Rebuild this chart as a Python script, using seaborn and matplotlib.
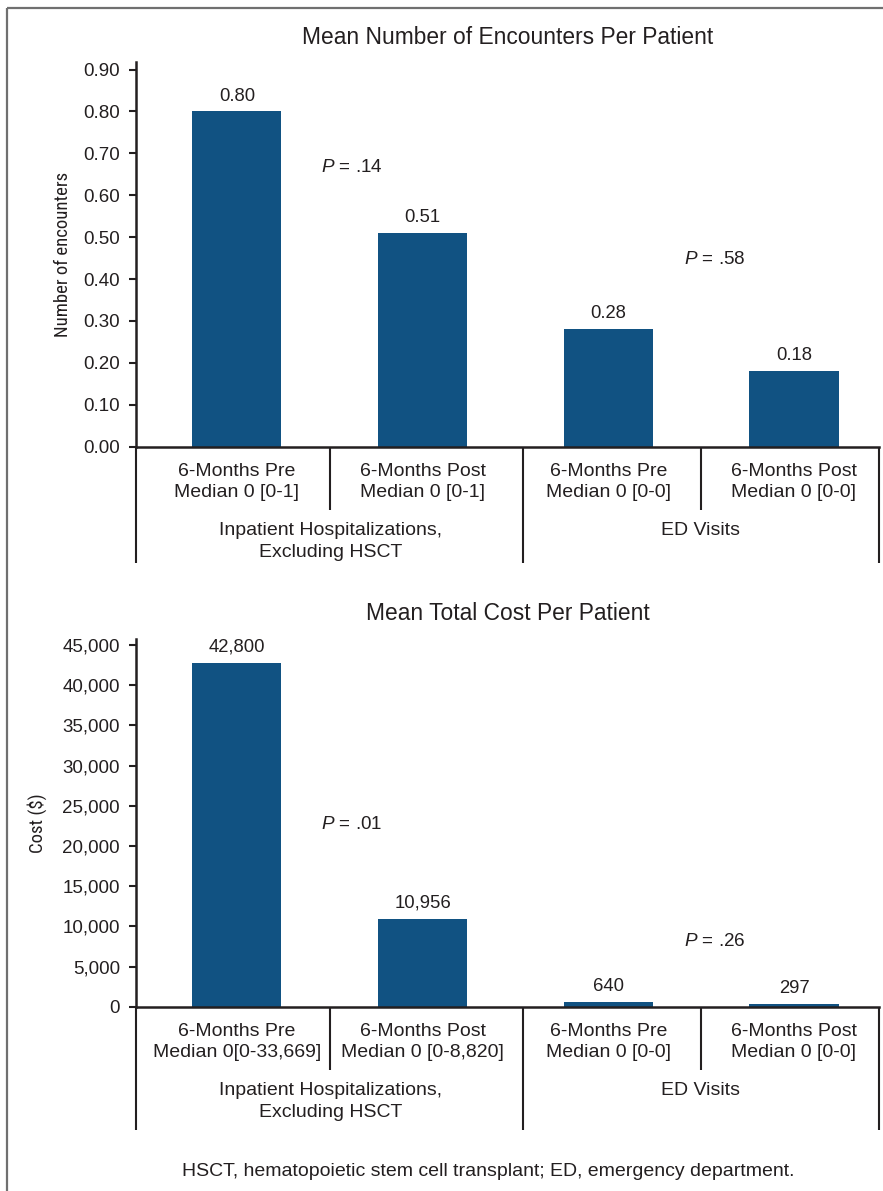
import numpy as np
import pandas as pd
import matplotlib
matplotlib.use("Agg")
import matplotlib.pyplot as plt
import seaborn as sns
from matplotlib import font_manager
from matplotlib.transforms import blended_transform_factory

# ---------------- data ----------------
enc_categories = ["6-Months Pre\nMedian 0 [0-1]", "6-Months Post\nMedian 0 [0-1]",
                  "6-Months Pre\nMedian 0 [0-0]", "6-Months Post\nMedian 0 [0-0]"]
enc_values = [0.80, 0.51, 0.28, 0.18]
enc_value_labels = ["0.80", "0.51", "0.28", "0.18"]
enc_yticks = [0.0, 0.1, 0.2, 0.3, 0.4, 0.5, 0.6, 0.7, 0.8, 0.9]
enc_yticklabels = ["0.00", "0.10", "0.20", "0.30", "0.40", "0.50", "0.60", "0.70", "0.80", "0.90"]
enc_pvalues = ["$P$ = .14", "$P$ = .58"]
enc_p_y = [0.667, 0.447]

cost_categories = ["6-Months Pre\nMedian 0[0-33,669]", "6-Months Post\nMedian 0 [0-8,820]",
                   "6-Months Pre\nMedian 0 [0-0]", "6-Months Post\nMedian 0 [0-0]"]
cost_values = [42800, 10956, 640, 297]
cost_value_labels = ["42,800", "10,956", "640", "297"]
cost_yticks = [0, 5000, 10000, 15000, 20000, 25000, 30000, 35000, 40000, 45000]
cost_yticklabels = ["0", "5,000", "10,000", "15,000", "20,000", "25,000", "30,000",
                    "35,000", "40,000", "45,000"]
cost_pvalues = ["$P$ = .01", "$P$ = .26"]
cost_p_y = [22700, 8150]

groups = ["Inpatient Hospitalizations,\nExcluding HSCT", "ED Visits"]
titles = ["Mean Number of Encounters Per Patient", "Mean Total Cost Per Patient"]
ylabels = ["Number of encounters", "Cost ($)"]
footer = "HSCT, hematopoietic stem cell transplant; ED, emergency department."

# ---------------- style ----------------
sns.set_style("white")
plt.rcParams["font.family"] = ["Liberation Sans", "DejaVu Sans"]
plt.rcParams["mathtext.fontset"] = "custom"
plt.rcParams["mathtext.it"] = "Liberation Sans:italic"
plt.rcParams["mathtext.rm"] = "Liberation Sans"

names = sorted({f.name for f in font_manager.fontManager.ttflist})
narrow = None
for cand in ["Liberation Sans Narrow", "Roboto Condensed", "Open Sans Condensed",
             "DejaVu Sans Condensed"]:
    if cand in names:
        narrow = cand
        break
if narrow is None:
    for n in names:
        if "Condensed" in n or "Narrow" in n:
            narrow = n
            break
if narrow is not None and narrow != "DejaVu Sans Condensed":
    YL_FONT = dict(family=[narrow, "DejaVu Sans"], fontsize=13.5)
elif narrow == "DejaVu Sans Condensed":
    YL_FONT = dict(family=[narrow], fontsize=12.5)
else:
    YL_FONT = dict(fontsize=12)

BAR = "#115282"
TXT = "#231f20"
FRAME = "#707070"
W, H = 883, 1191

fig = plt.figure(figsize=(W / 100, H / 100), dpi=100)
fig.patch.set_facecolor("white")

# outer frame (top and left)
fig.add_artist(plt.Line2D([7.5 / W, 1.0], [1 - 8.3 / H, 1 - 8.3 / H], color=FRAME, lw=1.6,
                          transform=fig.transFigure, solid_capstyle="butt"))
fig.add_artist(plt.Line2D([7.5 / W, 7.5 / W], [0, 1 - 8.3 / H], color=FRAME, lw=1.6,
                          transform=fig.transFigure, solid_capstyle="butt"))

xlim = (-0.543, 3.458)
inner_sep = [0.501, 2.499]
outer_sep = [xlim[0], 1.541, xlim[1]]
group_x = [0.503, 2.499]

panels = [
    dict(cats=enc_categories, vals=enc_values, vlab=enc_value_labels, yt=enc_yticks,
         ytl=enc_yticklabels, pv=enc_pvalues, py=enc_p_y, ylim=(0, 0.918),
         top=62.0, bottom=446.7, title_y=38, inner_end=510, outer_end=562.7,
         group_top=522, ylab_x=-0.0861),
    dict(cats=cost_categories, vals=cost_values, vlab=cost_value_labels, yt=cost_yticks,
         ytl=cost_yticklabels, pv=cost_pvalues, py=cost_p_y, ylim=(0, 45746),
         top=639.0, bottom=1006.7, title_y=614, inner_end=1070, outer_end=1130,
         group_top=1082, ylab_x=-0.1198),
]
p_x = [0.62, 2.575]

for i, p in enumerate(panels):
    ax = fig.add_axes([136 / W, 1 - p["bottom"] / H, 743 / W, (p["bottom"] - p["top"]) / H])
    df = pd.DataFrame({"category": p["cats"], "value": p["vals"]})
    sns.barplot(data=df, x="category", y="value", color=BAR, saturation=1, width=0.48,
                ax=ax, errorbar=None, linewidth=0)
    ax.bar_label(ax.containers[0], labels=p["vlab"], padding=5, fontsize=13.3, color=TXT)

    ax.set_xlim(*xlim)
    ax.set_ylim(*p["ylim"])
    ax.set_yticks(p["yt"], p["ytl"])
    ax.tick_params(axis="y", length=5, width=1.5, pad=6.5, labelsize=13.5, colors=TXT,
                   left=True)
    ax.tick_params(axis="x", length=0, pad=11.5, labelsize=14, colors=TXT)
    for lbl in ax.get_xticklabels():
        lbl.set_linespacing(1.33)
    ax.set_xlabel("")
    ax.set_ylabel(ylabels[i], color=TXT, **YL_FONT)
    ax.yaxis.set_label_coords(p["ylab_x"], 0.5)
    for s in ["top", "right"]:
        ax.spines[s].set_visible(False)
    for s in ["left", "bottom"]:
        ax.spines[s].set_linewidth(1.8)
        ax.spines[s].set_color(TXT)

    # title
    fig.text((136 + 879) / 2 / W, 1 - p["title_y"] / H, titles[i], ha="center", va="center",
             fontsize=16.4, color=TXT)

    # p-values
    for x, y, t in zip(p_x, p["py"], p["pv"]):
        ax.text(x, y, t, ha="center", va="center", fontsize=13.6, color=TXT)

    # separators below axis
    tr = blended_transform_factory(ax.transData, fig.transFigure)
    y0 = 1 - p["bottom"] / H
    for x in inner_sep:
        ax.plot([x, x], [y0, 1 - p["inner_end"] / H], color=TXT, lw=1.5, transform=tr,
                clip_on=False, solid_capstyle="butt")
    for x in outer_sep:
        ax.plot([x, x], [y0, 1 - p["outer_end"] / H], color=TXT, lw=1.5, transform=tr,
                clip_on=False, solid_capstyle="butt")
    for x, g in zip(group_x, groups):
        ax.text(x, 1 - p["group_top"] / H, g, ha="center", va="top", fontsize=14,
                color=TXT, transform=tr, linespacing=1.35)

fig.text(488 / W, 1 - 1172 / H, footer, ha="center", va="center", fontsize=14, color=TXT)

fig.savefig("out.png", dpi=100, facecolor="white")
